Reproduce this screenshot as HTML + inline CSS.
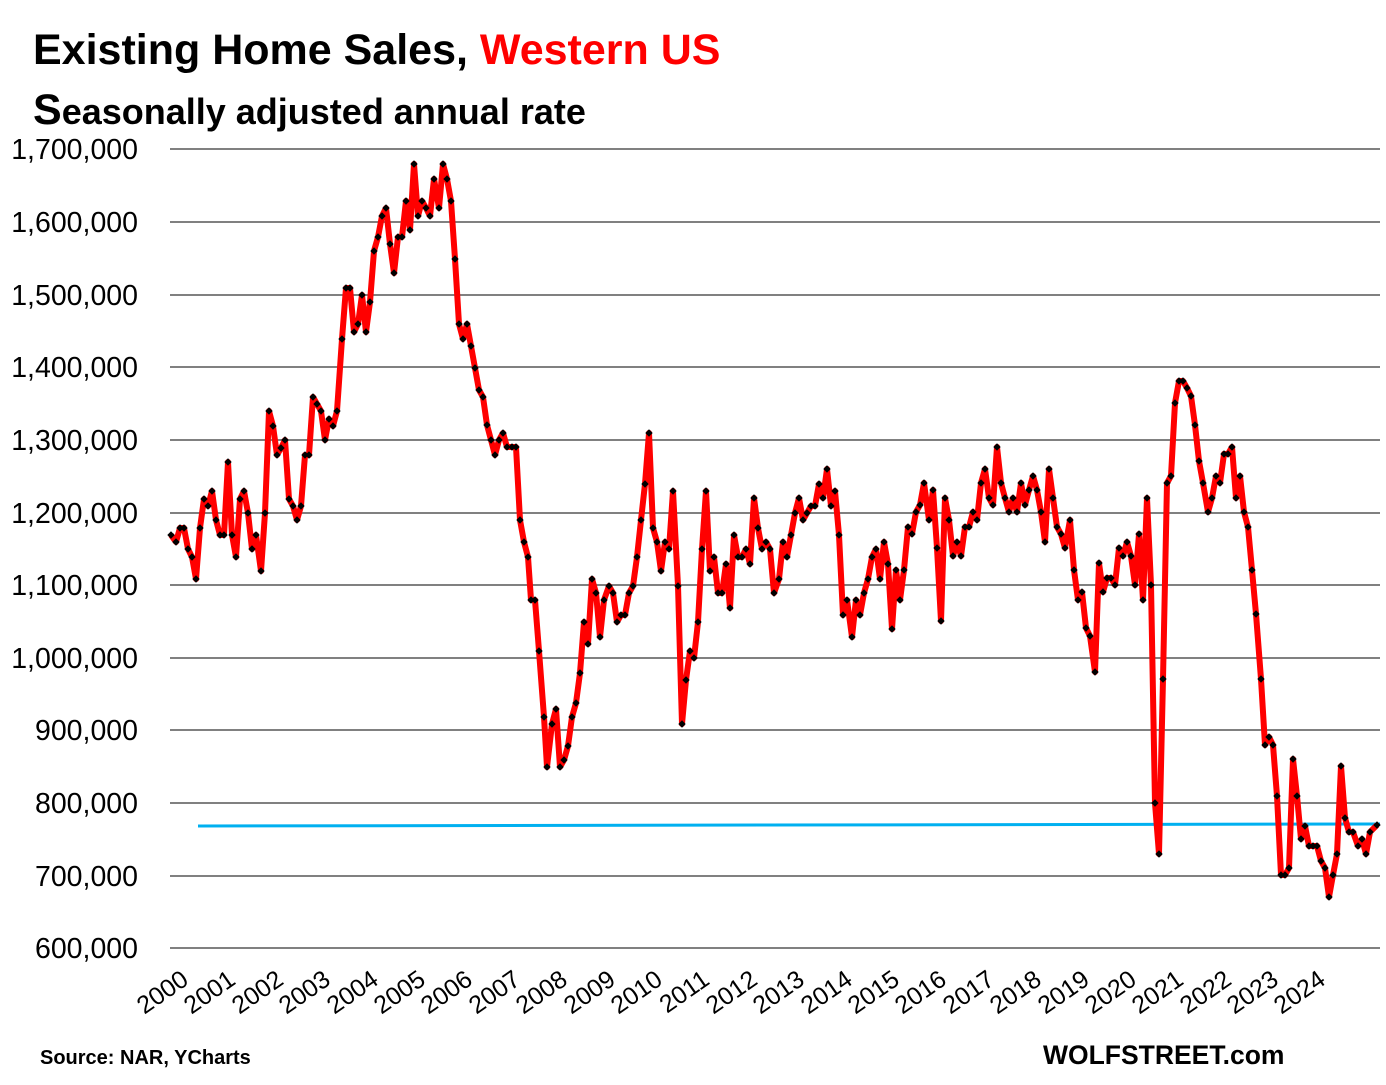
<!DOCTYPE html>
<html><head><meta charset="utf-8"><style>
html,body{margin:0;padding:0;background:#fff;}
body{width:1386px;height:1080px;overflow:hidden;font-family:"Liberation Sans",sans-serif;}
</style></head><body>
<svg width="1386" height="1080" xmlns="http://www.w3.org/2000/svg" font-family="Liberation Sans, sans-serif">
<defs>
<marker id="d" markerWidth="9" markerHeight="9" refX="4.5" refY="4.5" markerUnits="userSpaceOnUse">
<path d="M4.5 0.8 L8.2 4.5 L4.5 8.2 L0.8 4.5Z" fill="#000"/>
</marker>
</defs>
<text x="33" y="64" font-size="43" font-weight="bold" fill="#000">Existing Home Sales, <tspan fill="#ff0000">Western US</tspan></text>
<text x="33" y="124" font-size="36" font-weight="bold" fill="#000"><tspan font-size="43">S</tspan>easonally adjusted annual rate</text>
<g stroke="#808080" stroke-width="2">
<line x1="170" y1="149" x2="1380" y2="149"/><line x1="170" y1="222" x2="1380" y2="222"/>
<line x1="170" y1="295" x2="1380" y2="295"/><line x1="170" y1="367" x2="1380" y2="367"/>
<line x1="170" y1="440" x2="1380" y2="440"/><line x1="170" y1="513" x2="1380" y2="513"/>
<line x1="170" y1="585" x2="1380" y2="585"/><line x1="170" y1="658" x2="1380" y2="658"/>
<line x1="170" y1="730" x2="1380" y2="730"/><line x1="170" y1="803" x2="1380" y2="803"/>
<line x1="170" y1="876" x2="1380" y2="876"/><line x1="170" y1="948" x2="1380" y2="948"/>
</g>
<g font-size="28.5" text-anchor="end" fill="#000">
<text x="138" y="159">1,700,000</text><text x="138" y="232">1,600,000</text>
<text x="138" y="305">1,500,000</text><text x="138" y="377">1,400,000</text>
<text x="138" y="450">1,300,000</text><text x="138" y="523">1,200,000</text>
<text x="138" y="595">1,100,000</text><text x="138" y="668">1,000,000</text>
<text x="138" y="740">900,000</text><text x="138" y="813">800,000</text>
<text x="138" y="886">700,000</text><text x="138" y="958">600,000</text>
</g>
<line x1="198" y1="826" x2="1380" y2="824" stroke="#00b0f0" stroke-width="3"/>
<polyline fill="none" stroke="#ff0000" stroke-width="6" stroke-linejoin="round" marker-start="url(#d)" marker-mid="url(#d)" marker-end="url(#d)" points="171,535 176,542 180,528 184,528 188,549 192,557 196,579 200,528 204,499 208,506 212,491 216,520 220,535 224,535 228,462 232,535 236,557 240,499 244,491 248,513 252,549 256,535 261,571 265,513 269,411 273,426 277,455 281,448 285,440 289,499 293,506 297,520 301,506 305,455 309,455 313,397 317,404 321,411 325,440 329,419 333,426 337,411 342,339 346,288 350,288 354,332 358,324 362,295 366,332 370,302 374,251 378,237 382,216 386,208 390,244 394,273 398,237 402,237 406,201 410,230 414,164 418,216 422,201 426,208 430,216 434,179 439,208 443,164 447,179 451,201 455,259 459,324 463,339 467,324 471,346 475,368 479,390 483,397 487,425 491,440 495,455 499,440 503,433 507,447 512,447 516,447 520,520 524,542 528,557 531,600 535,600 539,651 544,717 547,767 552,724 556,709 560,767 564,760 568,746 572,717 576,703 580,673 584,622 588,644 592,579 596,593 600,637 604,600 609,586 613,593 617,622 621,615 625,615 629,593 633,586 637,557 641,520 645,484 649,433 653,528 657,542 661,571 665,542 669,549 673,491 678,586 682,724 686,680 690,651 694,658 698,622 702,549 706,491 710,571 714,557 718,593 722,593 726,564 730,608 734,535 738,557 742,557 746,549 750,564 754,498 758,528 762,549 766,542 770,549 774,593 779,579 783,542 787,557 791,535 795,513 799,498 803,520 807,513 811,506 815,506 819,484 823,498 827,469 831,506 835,491 839,535 843,615 847,600 852,637 856,600 860,615 864,593 868,579 872,557 876,549 880,579 884,542 888,564 892,629 896,570 900,600 904,570 908,527 912,534 916,512 920,505 924,483 929,520 933,490 937,548 941,621 945,498 949,520 953,556 957,542 961,556 965,527 969,527 973,512 977,520 981,483 985,469 989,498 993,505 997,447 1001,483 1005,498 1009,512 1013,498 1017,512 1021,483 1025,505 1029,490 1033,476 1037,490 1041,512 1045,542 1049,469 1053,498 1057,527 1061,534 1065,548 1070,520 1074,570 1078,600 1082,592 1086,628 1090,636 1095,672 1099,563 1103,592 1107,578 1111,578 1115,585 1119,548 1123,556 1127,542 1131,556 1135,585 1139,534 1143,600 1147,498 1151,585 1155,803 1159,854 1163,679 1167,483 1171,476 1175,403 1179,381 1183,381 1187,388 1191,396 1195,425 1199,461 1203,483 1208,512 1212,498 1216,476 1220,483 1224,454 1228,454 1232,447 1236,498 1240,476 1244,512 1248,527 1252,570 1256,614 1261,679 1265,745 1269,737 1273,745 1277,796 1281,875 1285,875 1289,868 1293,759 1297,796 1301,839 1305,826 1309,846 1313,846 1317,846 1321,861 1325,868 1329,897 1333,875 1337,854 1341,766 1345,818 1349,832 1353,832 1358,846 1362,839 1366,854 1370,832 1377,825"/>
<g font-size="25" text-anchor="end" fill="#000">
<text transform="translate(190,983) rotate(-35)">2000</text>
<text transform="translate(237,983) rotate(-35)">2001</text>
<text transform="translate(285,983) rotate(-35)">2002</text>
<text transform="translate(332,983) rotate(-35)">2003</text>
<text transform="translate(380,983) rotate(-35)">2004</text>
<text transform="translate(427,983) rotate(-35)">2005</text>
<text transform="translate(474,983) rotate(-35)">2006</text>
<text transform="translate(522,983) rotate(-35)">2007</text>
<text transform="translate(569,983) rotate(-35)">2008</text>
<text transform="translate(617,983) rotate(-35)">2009</text>
<text transform="translate(664,983) rotate(-35)">2010</text>
<text transform="translate(711,983) rotate(-35)">2011</text>
<text transform="translate(759,983) rotate(-35)">2012</text>
<text transform="translate(806,983) rotate(-35)">2013</text>
<text transform="translate(854,983) rotate(-35)">2014</text>
<text transform="translate(901,983) rotate(-35)">2015</text>
<text transform="translate(948,983) rotate(-35)">2016</text>
<text transform="translate(996,983) rotate(-35)">2017</text>
<text transform="translate(1043,983) rotate(-35)">2018</text>
<text transform="translate(1091,983) rotate(-35)">2019</text>
<text transform="translate(1138,983) rotate(-35)">2020</text>
<text transform="translate(1185,983) rotate(-35)">2021</text>
<text transform="translate(1233,983) rotate(-35)">2022</text>
<text transform="translate(1280,983) rotate(-35)">2023</text>
<text transform="translate(1327,983) rotate(-35)">2024</text>
</g>
<text x="40" y="1064" font-size="20" font-weight="bold" fill="#000">Source: NAR, YCharts</text>
<text x="1043" y="1064" font-size="26.5" font-weight="bold" fill="#000">WOLFSTREET.com</text>
</svg>
</body></html>
